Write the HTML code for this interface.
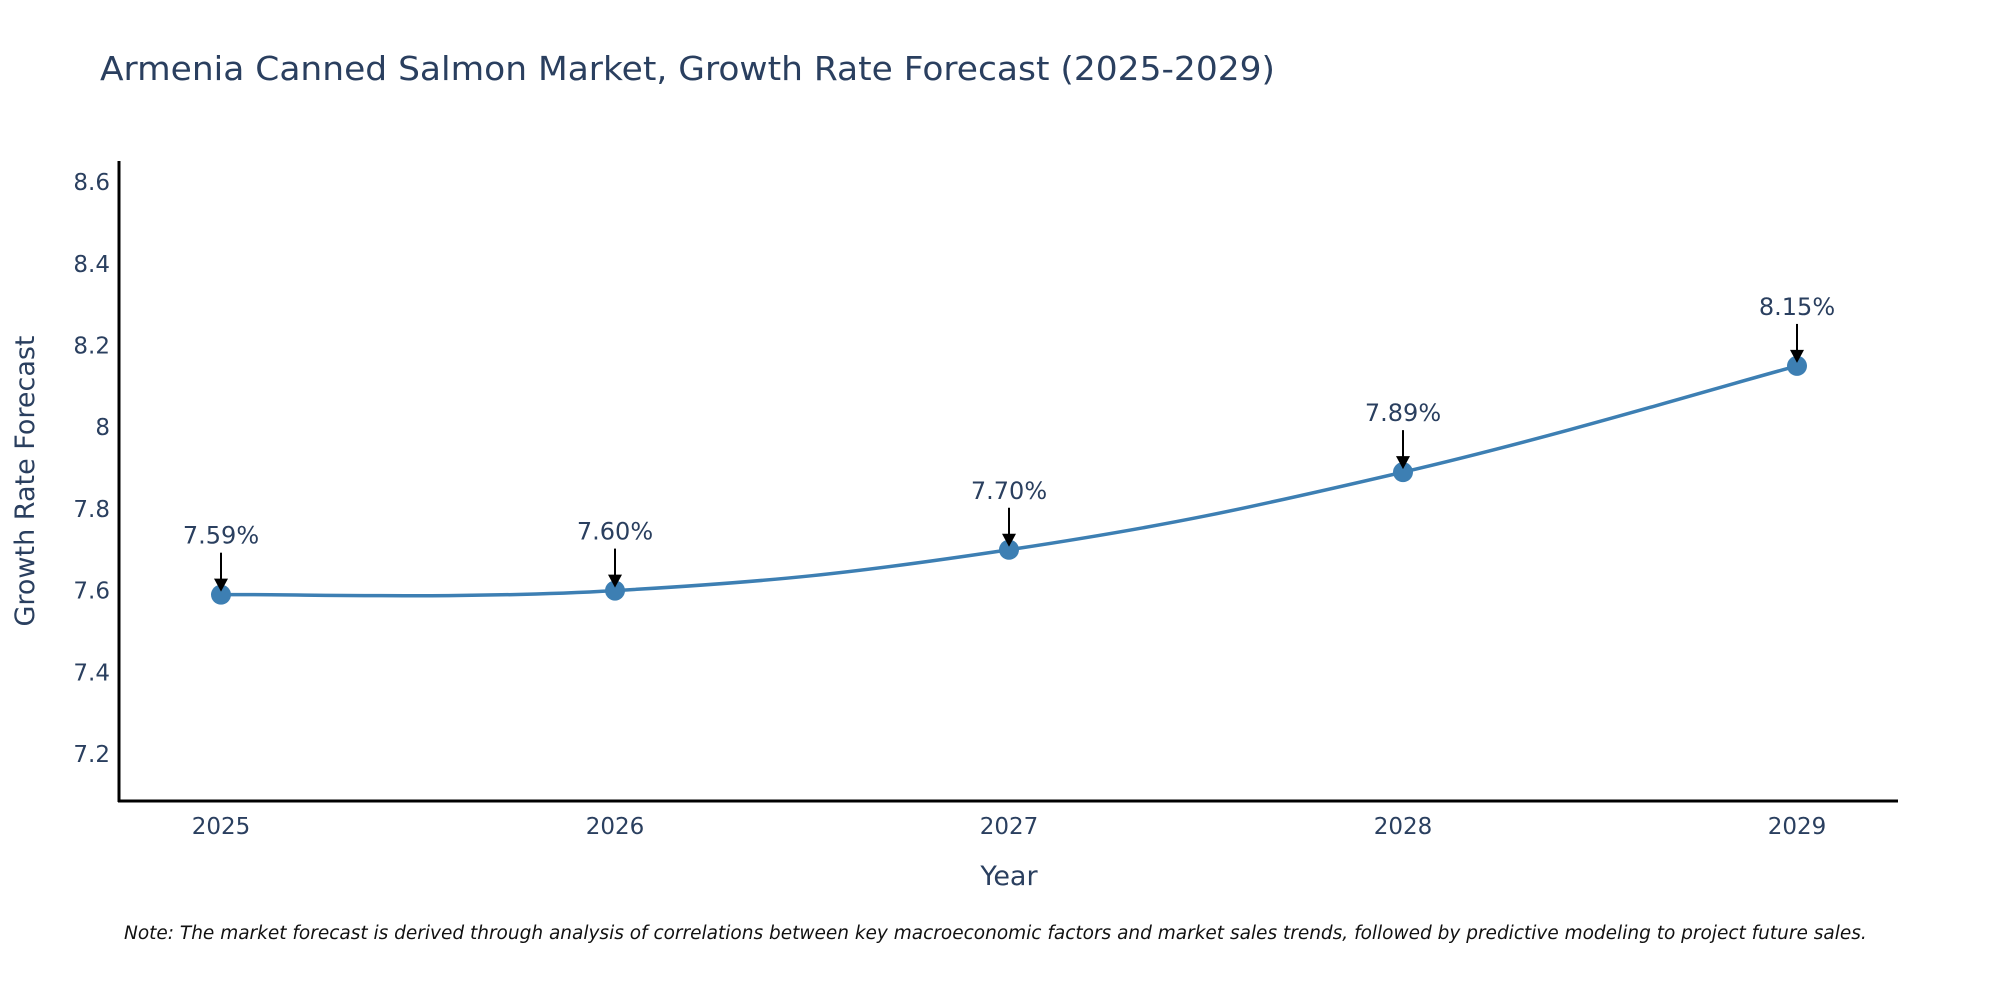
<!DOCTYPE html>
<html><head><meta charset="utf-8"><style>
body{margin:0;background:#fff;}
svg{display:block;font-family:"DejaVu Sans","Liberation Sans",sans-serif;}
</style></head><body>
<svg id="chart" width="2000" height="1000" xmlns="http://www.w3.org/2000/svg">
<text x="100" y="80" font-size="33" fill="#2a3f5f" textLength="1175" lengthAdjust="spacingAndGlyphs">Armenia Canned Salmon Market, Growth Rate Forecast (2025-2029)</text>
<g id="yticks"></g>
<g id="xticks"></g>
<line x1="119" y1="161" x2="119" y2="802" stroke="#000" stroke-width="3"/>
<line x1="118" y1="801" x2="1898" y2="801" stroke="#000" stroke-width="3"/>
<text transform="translate(34,481) rotate(-90)" text-anchor="middle" font-size="27" fill="#2a3f5f">Growth Rate Forecast</text>
<text x="1009" y="885" text-anchor="middle" font-size="27" fill="#2a3f5f">Year</text>
<g id="series"></g>
<text x="124" y="939" font-size="18.5" font-style="italic" fill="#111">Note: The market forecast is derived through analysis of correlations between key macroeconomic factors and market sales trends, followed by predictive modeling to project future sales.</text>
</svg>
<script>
const years = [2025, 2026, 2027, 2028, 2029];
const values = [7.59, 7.60, 7.70, 7.89, 8.15];
const valueLabels = ["7.59%", "7.60%", "7.70%", "7.89%", "8.15%"];
const yTickValues = [7.2, 7.4, 7.6, 7.8, 8, 8.2, 8.4, 8.6];
const yTickLabels = ["7.2", "7.4", "7.6", "7.8", "8", "8.2", "8.4", "8.6"];

const NS = "http://www.w3.org/2000/svg";
function xScale(yr){ return 221 + (yr - 2025) * 394; }
function yScale(v){ return 754 - (v - 7.2) / 0.2 * 81.7; }
function mk(tag, attrs, parent){ const e=document.createElementNS(NS,tag); for(const k in attrs) e.setAttribute(k,attrs[k]); parent.appendChild(e); return e; }

const yt = document.getElementById('yticks');
yTickValues.forEach((v,i)=>{
  const t = mk('text',{x:110,y:yScale(v)+8,'text-anchor':'end','font-size':23,fill:'#2a3f5f'},yt);
  
  
  t.textContent = yTickLabels[i];
});
const xt = document.getElementById('xticks');
years.forEach(yr=>{
  const t = mk('text',{x:xScale(yr),y:834,'text-anchor':'middle','font-size':23,fill:'#2a3f5f'},xt);
  
  
  t.textContent = String(yr);
});

const g = document.getElementById('series');
const pts = years.map((yr,i)=>[xScale(yr), yScale(values[i])]);
let d = `M${pts[0][0]},${pts[0][1]}`;
const s = 0.2;
for(let i=0;i<pts.length-1;i++){
  const p0=pts[Math.max(i-1,0)], p1=pts[i], p2=pts[i+1], p3=pts[Math.min(i+2,pts.length-1)];
  const c1=[p1[0]+(p2[0]-p0[0])*s, p1[1]+(p2[1]-p0[1])*s];
  const c2=[p2[0]-(p3[0]-p1[0])*s, p2[1]-(p3[1]-p1[1])*s];
  d += ` C${c1[0]},${c1[1]} ${c2[0]},${c2[1]} ${p2[0]},${p2[1]}`;
}
const line = mk('path',{d:d,fill:'none',stroke:'#3d7fb3','stroke-width':3.5},g);


pts.forEach((p,i)=>{
  const c = mk('circle',{cx:p[0],cy:p[1],r:10,fill:'#3d7fb3'},g);
  
  
  const a = mk('line',{x1:p[0],y1:p[1]-42,x2:p[0],y2:p[1]-14,stroke:'#000','stroke-width':2},g);
  
  
  const h = mk('polygon',{points:`${p[0]-7},${p[1]-16} ${p[0]+7},${p[1]-16} ${p[0]},${p[1]-3}`,fill:'#000'},g);
  
  
  const t = mk('text',{x:p[0],y:p[1]-51,'text-anchor':'middle','font-size':24,fill:'#2a3f5f'},g);
  
  
  t.textContent = valueLabels[i];
});
</script>
</body></html>
